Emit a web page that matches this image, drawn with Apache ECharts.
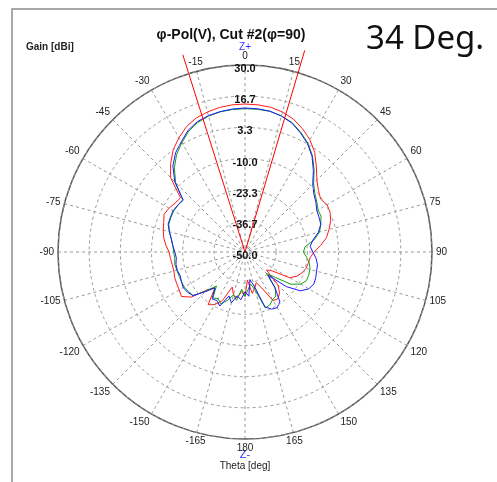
<!DOCTYPE html>
<html>
<head>
<meta charset="utf-8">
<script src="https://cdn.jsdelivr.net/npm/echarts@6/dist/echarts.min.js"></script>
<style>
html,body{margin:0;padding:0;background:#fff;}
#chart{width:497px;height:482px;}
</style>
</head>
<body>
<div id="chart"></div>
<script>
// Theta angles (deg) of the measured cut
const thetaDeg = [-180,-175,-170,-165,-160,-155,-150,-145,-140,-135,-130,-125,-120,-115,-110,-105,-100,-95,-90,-85,-80,-75,-70,-65,-60,-55,-50,-45,-40,-35,-30,-25,-20,-15,-10,-5,0,5,10,15,20,25,30,35,40,45,50,55,60,65,70,75,80,85,90,95,100,105,110,115,120,125,130,135,140,145,150,155,160,165,170,175,180];

// Gain [dBi] per theta
const redGain = [-31,-33,-30,-31,-34,-27,-24,-22.5,-30,-27,-20,-16.8,-17.5,-17.8,-18,-18.5,-18.4,-18,-17.5,-16,-14.7,-13.8,-13,-11.8,-12.5,-13.5,-14,-5,-0.5,3.5,6.5,9.2,11,12,12.8,13.2,13.3,13.2,12.9,12,10.5,8.2,5.5,2,-2.5,-6.5,-9,-10.5,-9.5,-9.8,-11,-12.8,-14.6,-17.5,-20.5,-22,-22.5,-23,-24,-25.5,-28,-36,-38,-30,-27,-25.5,-26,-33,-36,-34,-32,-38,-31];
const greenGain = [-31,-34,-29,-31,-28,-25.5,-27,-26,-31,-26.5,-21,-20.5,-20,-20,-20,-19.8,-19.5,-19.8,-19.5,-19,-18,-16.5,-15.3,-15,-14.8,-15,-15.2,-8,-3,1,4,7,9,10.2,10.9,11.2,11.3,11.3,11.1,10.3,8.9,6.5,3.8,0.3,-4,-8.5,-11,-12.5,-13.9,-14.1,-15.5,-17,-20,-24.2,-25,-23.5,-22,-21.2,-21,-21,-22.5,-26,-33,-37,-30,-27,-26.4,-25,-24.5,-33,-36,-34,-31];
const blueGain = [-33,-29.5,-31,-27.5,-30,-24.5,-26,-25.5,-30,-26,-21,-20,-19.5,-20,-20.5,-20,-20,-20.5,-20,-19,-18,-16.5,-15,-14.8,-14.5,-15,-15.5,-7.5,-2,1.8,4.5,7.5,9.4,10.4,11,11.4,11.6,11.5,11.2,10.2,8.7,6.2,3.5,0,-4.5,-9,-11.5,-13,-14.5,-15,-15.5,-17.5,-20.5,-22,-21,-19.5,-18.5,-18.3,-17.8,-17.5,-18.5,-21,-27,-36,-30,-24,-22.5,-23,-25,-35,-38,-31,-33];

// Beamwidth markers (34 Deg.)
const beamTheta = [-17.5, 16.5];
const beamReach = [38.5, 40];

const radiusTicks = ['-50.0','-36.7','-23.3','-10.0','3.3','16.7','30.0'];

const FONT = '"Liberation Sans", Arial, sans-serif';
const R_MIN = -50, R_MAX = 30;

function toPolar(vals) {
  return thetaDeg.map((t, i) => [vals[i], (t + 360) % 360]);
}

const chart = echarts.init(document.getElementById('chart'), null, {renderer: 'canvas'});

const option = {
  backgroundColor: '#fff',
  animation: false,
  title: {
    text: 'φ-Pol(V), Cut #2(φ=90)',
    left: 226, top: 23, textAlign: 'center',
    textStyle: {fontFamily: FONT, fontSize: 14, fontWeight: 'bold', color: '#111'}
  },
  polar: {center: [245, 252], radius: 187},
  angleAxis: {
    type: 'value', min: 0, max: 360, interval: 15,
    startAngle: 90, clockwise: true,
    axisLine: {show: true, lineStyle: {color: '#555', width: 1.5}},
    axisTick: {show: false},
    axisLabel: {
      margin: 4, color: '#222', fontSize: 10, fontFamily: FONT,
      formatter: v => String(v > 180 ? v - 360 : v)
    },
    splitLine: {show: true, lineStyle: {type: [3, 3], color: '#999', width: 1}}
  },
  radiusAxis: {
    type: 'value', min: R_MIN, max: R_MAX, interval: (R_MAX - R_MIN) / 6,
    z: 10,
    axisLine: {show: false},
    axisTick: {show: false},
    axisLabel: {
      margin: 0, align: 'center', verticalAlign: 'top', lineHeight: 8,
      color: '#111', fontSize: 11, fontWeight: 'bold', fontFamily: FONT,
      formatter: (v) => {
        const idx = Math.round((v - R_MIN) / ((R_MAX - R_MIN) / 6));
        return radiusTicks[idx] !== undefined ? radiusTicks[idx] : '';
      }
    },
    splitLine: {show: true, lineStyle: {type: [3, 3], color: '#999', width: 1}}
  },
  series: [
    {
      name: 'red', type: 'line', coordinateSystem: 'polar', symbol: 'none',
      lineStyle: {color: '#ff1a1a', width: 1}, data: toPolar(redGain), z: 3
    },
    {
      name: 'green', type: 'line', coordinateSystem: 'polar', symbol: 'none',
      lineStyle: {color: '#12a012', width: 1}, data: toPolar(greenGain), z: 4
    },
    {
      name: 'blue', type: 'line', coordinateSystem: 'polar', symbol: 'none',
      lineStyle: {color: '#1a1aff', width: 1}, data: toPolar(blueGain), z: 5
    },
    {
      name: 'beam', type: 'custom', coordinateSystem: 'polar', z: 6, clip: false,
      encode: {radius: 0, angle: 1},
      data: beamTheta.map((t, i) => [beamReach[i], (t + 360) % 360]),
      renderItem: (params, api) => {
        const reach = api.value(0), ang = api.value(1);
        const c = api.coord([R_MIN, ang]);
        const o = api.coord([R_MAX, ang]);
        const k = (reach - R_MIN) / (R_MAX - R_MIN);
        return {
          type: 'line',
          shape: {x1: c[0], y1: c[1], x2: c[0] + (o[0] - c[0]) * k, y2: c[1] + (o[1] - c[1]) * k},
          style: {stroke: '#ff0000', lineWidth: 1}
        };
      }
    }
  ],
  graphic: [
    {type: 'polyline', shape: {points: [[12, 482], [12, 9], [497, 9]]},
     style: {stroke: '#8c8c8c', lineWidth: 1.5, fill: null}, silent: true},
    {type: 'text', left: 26, top: 42,
     style: {text: 'Gain [dBi]', font: 'bold 10px ' + FONT, fill: '#222'}},
    {type: 'text', x: 366, y: 23,
     style: {text: '34 Deg.', font: '33px "Noto Sans", sans-serif', fill: '#111'}},
    {type: 'text', x: 245, y: 47,
     style: {text: 'Z+', font: '10px ' + FONT, fill: '#3333ff', align: 'center', verticalAlign: 'middle'}},
    {type: 'text', x: 245, y: 455,
     style: {text: 'Z-', font: '11px ' + FONT, fill: '#3333ff', align: 'center', verticalAlign: 'middle'}},
    {type: 'text', x: 245, y: 466,
     style: {text: 'Theta [deg]', font: '10px ' + FONT, fill: '#222', align: 'center', verticalAlign: 'middle'}}
  ]
};

chart.setOption(option);
</script>
</body>
</html>
